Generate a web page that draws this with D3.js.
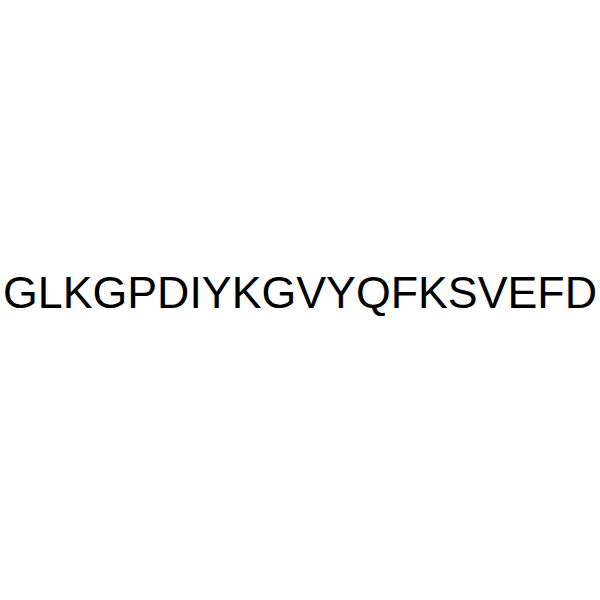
<!DOCTYPE html>
<html>
<head>
<meta charset="utf-8">
<script src="https://cdn.jsdelivr.net/npm/d3@7"></script>
<style>
  body { margin: 0; background: #fff; }
</style>
</head>
<body>
<svg id="chart"></svg>
<script>
// peptide sequence shown as the only label
const sequence = ["GLKGPDIYKGVYQFKSVEFD"];

const width = 600, height = 600;

const svg = d3.select('#chart')
    .attr('width', width)
    .attr('height', height);

const label = svg.selectAll('text.seq')
    .data(sequence)
    .join('text')
    .attr('class', 'seq')
    .attr('x', width / 2)
    .attr('y', 307.5)
    .attr('text-anchor', 'middle')
    .attr('font-family', 'Liberation Sans, Arial, sans-serif')
    .attr('font-size', 33.5)
    .attr('fill', '#000')
    .text(d => d);

// fit the label to the span seen in the reference (x 3 .. 597)
const len = label.node().getComputedTextLength();
label.attr('font-size', 33.5 * 594 / len);
</script>
</body>
</html>
